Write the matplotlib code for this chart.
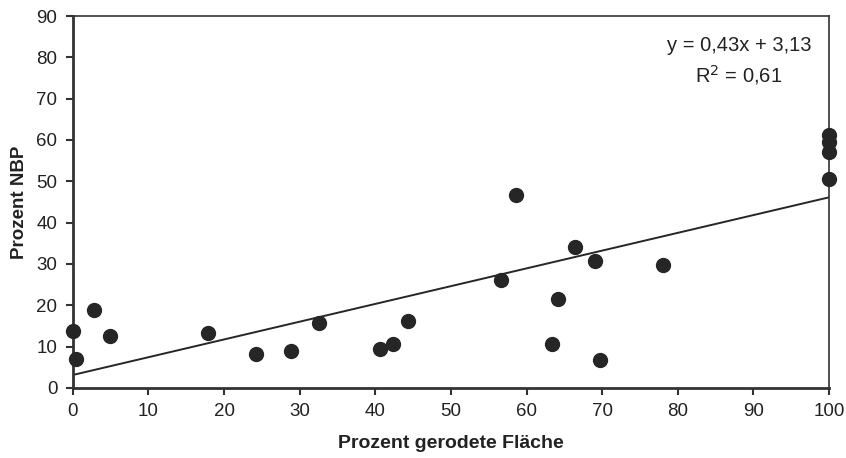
import numpy as np
import matplotlib.pyplot as plt

plt.rcParams['font.family'] = ['Liberation Sans', 'DejaVu Sans']

# Prozent gerodete Fläche / Prozent NBP
flaeche = [0.0, 0.4, 2.8, 4.9, 17.9, 24.2, 28.8, 32.5, 40.6, 42.3, 44.3,
           56.6, 58.6, 63.4, 64.2, 66.4, 69.1, 69.7, 78.1,
           100, 100, 100, 100]
nbp = [13.7, 6.9, 18.8, 12.6, 13.2, 8.2, 9.0, 15.8, 9.4, 10.6, 16.1,
       26.1, 46.6, 10.6, 21.5, 34.2, 30.7, 6.8, 29.7,
       61.3, 59.5, 57.1, 50.5]
slope = 0.43
intercept = 3.13
r2 = 0.61

fig = plt.figure(figsize=(8.46, 4.58), dpi=100)
ax = fig.add_axes([0.086, 0.153, 0.894, 0.812])

ax.scatter(flaeche, nbp, s=100, c='#262626', zorder=3, clip_on=False)
xl = np.array([0, 100])
ax.plot(xl, slope * xl + intercept, color='#262626', lw=1.4, zorder=2)

ax.set_xlim(0, 100)
ax.set_ylim(0, 90)
ax.set_xticks(range(0, 101, 10))
ax.set_yticks(range(0, 91, 10))
ax.tick_params(labelsize=13.5, width=1.5, length=5, color='#333333', pad=6,
               labelcolor='#222222')
for sp in ax.spines.values():
    sp.set_linewidth(1.2)
    sp.set_color('#333333')
ax.spines['left'].set_linewidth(2)
ax.spines['bottom'].set_linewidth(2)

ax.set_xlabel('Prozent gerodete Fläche', fontsize=14, fontweight='bold', labelpad=11,
              color='#222222')
ax.set_ylabel('Prozent NBP', fontsize=13.5, fontweight='bold', labelpad=6,
              color='#222222')

eq = 'y = %sx + %s' % (str(slope).replace('.', ','), str(intercept).replace('.', ','))
ax.text(0.881, 0.92, eq, transform=ax.transAxes, ha='center', va='center',
        fontsize=14.5, color='#222222')
ax.text(0.881, 0.84, 'R$^2$ = ' + str(r2).replace('.', ','), transform=ax.transAxes,
        ha='center', va='center', fontsize=14.5, color='#222222')

fig.savefig('out.png', dpi=100)
